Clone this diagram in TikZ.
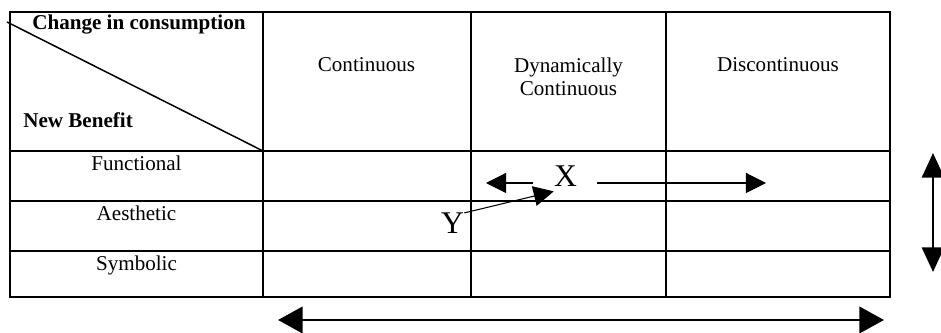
\documentclass[tikz,border=0pt]{standalone}
\usepackage{fontspec}
\setmainfont{Liberation Serif}
\usetikzlibrary{arrows.meta}
\begin{document}
\begin{tikzpicture}[
    x=0.02cm, y=-0.02cm,
    txt/.style={inner sep=0, font=\fontsize{12}{13.1}\selectfont},
    lbl/.style={txt, anchor=base, align=center},
    hdr/.style={txt, anchor=base west, font=\fontsize{12}{13.1}\selectfont\bfseries},
    big/.style={inner sep=0, anchor=base, font=\fontsize{18}{20}\selectfont},
    rule/.style={line width=0.85pt},
    arr/.style={-{Triangle[length=11.4pt, width=11.4pt]}, line width=0.6pt},
    dbl/.style={{Triangle[length=14pt, width=#1]}-{Triangle[length=14pt, width=#1]}, line width=1.6pt}
]
    \useasboundingbox (0,0) rectangle (941,333);
    \draw[rule] (10,12) rectangle (890,297);
    \foreach \y in {151,201,251} \draw[rule] (10,\y) -- (890,\y);
    \foreach \x in {263,471,666} \draw[rule] (\x,12) -- (\x,297);
    \draw[rule] (7,22) -- (263,151);
    \node[hdr] (chg) at (32,30) {Change in consumption};
    \node[hdr] (ben) at (23,128) {New Benefit};
    \node[lbl] (cont) at (366.5,72) {Continuous};
    \node[lbl] (dyn) at (568.5,96) {Dynamically\\Continuous};
    \node[lbl] (disc) at (778,72) {Discontinuous};
    \node[lbl] (fun) at (136.5,171) {Functional};
    \node[lbl] (aes) at (136.5,221) {Aesthetic};
    \node[lbl] (sym) at (136.5,271) {Symbolic};
    \node[big] (X) at (565.5,187) {X};
    \node[big] (Y) at (452.5,234) {Y};
    \coordinate (xl) at (533,183);
    \coordinate (xll) at (486,183);
    \coordinate (xr) at (597,183);
    \coordinate (xrr) at (766,183);
    \coordinate (vt) at (933,153);
    \coordinate (vb) at (933,272);
    \coordinate (hl) at (278,320);
    \coordinate (hr) at (884,320);
    \draw[arr] (xl) -- (xll);
    \draw[arr] (xr) -- (xrr);
    \draw[arr] (Y.north east) -- ([shift={(0,4)}]X.south west);
    \draw[dbl=12.5pt] (vt) -- (vb);
    \draw[dbl=15pt] (hl) -- (hr);
\end{tikzpicture}
\end{document}
